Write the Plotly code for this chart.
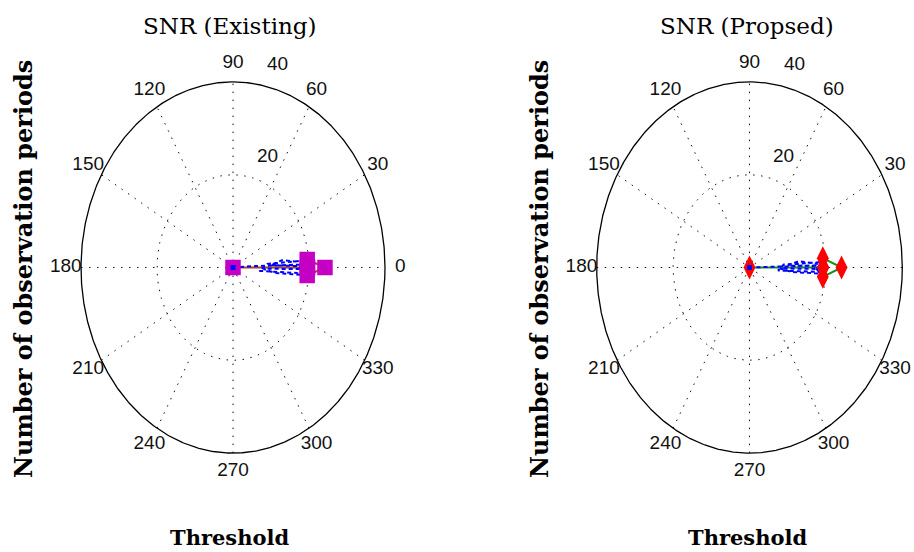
import numpy as np
import plotly.graph_objects as go

# ---------------- data ----------------
RMAX = 40
ring_values = [20, 40]
ring_labels = ["20", "40"]
angle_ticks = [0, 30, 60, 90, 120, 150, 180, 210, 240, 270, 300, 330]
angle_labels = ["0", "30", "60", "90", "120", "150", "180", "210", "240", "270", "300", "330"]

titles = ["SNR (Existing)", "SNR (Propsed)"]
x_label = "Threshold"
y_label = "Number of observation periods"

# Existing: main series (line + square markers)
existing_r = [0, 19.6, 19.6, 24.2, 19.6, 19.6]
existing_theta = [0, 0, 5, 0, -5, 0]
# Existing: dashed blue series
existing_blue_r = [0, 6.0, 18.0, 17.0, 7.0, 9.0, 19.0, 18.0, 8.0, 11.0, 19.0, 17.0, 10.0, 13.0, 18.5]
existing_blue_theta = [0, 3.0, 2.0, -4.0, -6.0, 5.0, 4.5, -1.0, -2.0, -6.0, -5.0, 1.0, 3.0, 7.0, 3.5]

# Proposed: main series (line + diamond markers)
proposed_r = [0, 19.3, 19.3, 24.1, 19.3, 19.3]
proposed_theta = [0, 0, 6, 0, -6, 0]
# Proposed: dashed blue series
proposed_blue_r = [0, 6.0, 18.0, 17.5, 7.5, 9.0, 18.5, 18.0, 8.0, 11.0, 18.5, 17.0, 10.0, 13.0, 18.0]
proposed_blue_theta = [0, 2.0, 1.5, -3.0, -5.0, 4.0, 3.5, -1.0, -1.5, -5.0, -4.0, 1.0, 2.5, 6.0, 2.5]

# ---------------- styling ----------------
TICK_FONT = dict(family="Liberation Sans, Arial, sans-serif", size=19, color="#111111")
SERIF = "DejaVu Serif, Liberation Serif, serif"
DOT = "1.5px,6.5px"


def pol(r, th):
    r = np.asarray(r, dtype=float)
    t = np.radians(np.asarray(th, dtype=float))
    return r * np.cos(t), r * np.sin(t)


fig = go.Figure()


def add_frame(xa, ya):
    # spokes (dotted, through the centre)
    sx, sy = [], []
    for a in angle_ticks[:6]:
        x0, y0 = pol([-RMAX, RMAX], [a, a])
        sx += list(x0) + [None]
        sy += list(y0) + [None]
    fig.add_trace(go.Scatter(x=sx, y=sy, mode="lines", xaxis=xa, yaxis=ya,
                             line=dict(color="#111111", width=1, dash=DOT), hoverinfo="skip"))
    t = np.linspace(0, 360, 721)
    for rv in ring_values:
        cx, cy = pol(np.full_like(t, rv), t)
        if rv == RMAX:
            ln = dict(color="black", width=1.3)
        else:
            ln = dict(color="#111111", width=1, dash=DOT)
        fig.add_trace(go.Scatter(x=cx, y=cy, mode="lines", xaxis=xa, yaxis=ya,
                                 line=ln, hoverinfo="skip"))
    # angle labels
    lx, ly = pol([RMAX * 1.1] * len(angle_ticks), angle_ticks)
    fig.add_trace(go.Scatter(x=lx, y=ly, mode="text", text=angle_labels, xaxis=xa, yaxis=ya,
                             textposition="middle center", textfont=TICK_FONT,
                             cliponaxis=False, hoverinfo="skip"))
    # ring labels
    for rv, lab in zip(ring_values, ring_labels):
        ax_, ay_ = pol([rv + 1], [82])
        fig.add_annotation(x=float(ax_[0]), y=float(ay_[0]), xref=xa, yref=ya, text=lab,
                           showarrow=False, xshift=23, yshift=16, font=TICK_FONT,
                           xanchor="center", yanchor="middle")


def add_series(xa, ya, r, th, line_color, marker_symbol, marker_color, marker_size,
               blue_r, blue_th):
    mx, my = pol(r, th)
    fig.add_trace(go.Scatter(x=mx, y=my, mode="lines", xaxis=xa, yaxis=ya,
                             line=dict(color=line_color, width=2), hoverinfo="skip"))
    bx, by = pol(blue_r, blue_th)
    fig.add_trace(go.Scatter(x=bx, y=by, mode="lines", xaxis=xa, yaxis=ya,
                             line=dict(color="#0000ff", width=2, dash="4px,3px"),
                             hoverinfo="skip"))
    fig.add_trace(go.Scatter(x=mx, y=my, mode="markers", xaxis=xa, yaxis=ya,
                             marker=dict(symbol=marker_symbol, color=marker_color, size=marker_size,
                                         line=dict(width=0)),
                             hoverinfo="skip"))
    fig.add_trace(go.Scatter(x=bx[:1], y=by[:1], mode="markers", xaxis=xa, yaxis=ya,
                             marker=dict(symbol="square", color="#0000ff", size=5),
                             hoverinfo="skip"))


add_frame("x", "y")
add_series("x", "y", existing_r, existing_theta, "#a5471f", "square", "#c400c4", 15.5,
           existing_blue_r, existing_blue_theta)
add_frame("x2", "y2")
add_series("x2", "y2", proposed_r, proposed_theta, "#129018", "diamond-tall", "#ff0000", 17,
           proposed_blue_r, proposed_blue_theta)

W, H = 914, 552
# axis geometry (pixels -> paper fractions)
sx1, cx1 = 3.8, 233.0
sx2, cx2 = 3.82, 749.5
sy, cy = 4.64, 267.5
xr1 = [-45, 45]
xr2 = [-45, 43]
yr = [-45, 45]

ax_common = dict(visible=False, showgrid=False, zeroline=False, fixedrange=True)
fig.update_layout(
    width=W, height=H,
    margin=dict(l=0, r=0, t=0, b=0),
    paper_bgcolor="white", plot_bgcolor="white",
    showlegend=False,
    xaxis=dict(range=xr1, domain=[(cx1 + xr1[0] * sx1) / W, (cx1 + xr1[1] * sx1) / W], anchor="y", **ax_common),
    yaxis=dict(range=yr, domain=[1 - (cy - yr[0] * sy) / H, 1 - (cy - yr[1] * sy) / H], anchor="x", **ax_common),
    xaxis2=dict(range=xr2, domain=[(cx2 + xr2[0] * sx2) / W, min(1.0, (cx2 + xr2[1] * sx2) / W)], anchor="y2", **ax_common),
    yaxis2=dict(range=yr, domain=[1 - (cy - yr[0] * sy) / H, 1 - (cy - yr[1] * sy) / H], anchor="x2", **ax_common),
)

for cx, ylx, title in [(230, 23, titles[0]), (747, 539, titles[1])]:
    fig.add_annotation(x=cx / W, y=1 - 26 / H, xref="paper", yref="paper", text=title,
                       xanchor="center", yanchor="middle",
                       showarrow=False, font=dict(family=SERIF, size=23, color="black"))
    fig.add_annotation(x=cx / W, y=1 - 537 / H, xref="paper", yref="paper", text="<b>" + x_label + "</b>",
                       xanchor="center", yanchor="middle",
                       showarrow=False, font=dict(family=SERIF, size=21, color="black"))
    fig.add_annotation(x=ylx / W, y=1 - 269 / H, xref="paper", yref="paper", text="<b>" + y_label + "</b>",
                       xanchor="center", yanchor="middle",
                       textangle=-90, showarrow=False, font=dict(family=SERIF, size=24, color="black"))

fig.write_html("out.html", config={"displayModeBar": False},
               post_script="document.body.style.margin='0px';")
